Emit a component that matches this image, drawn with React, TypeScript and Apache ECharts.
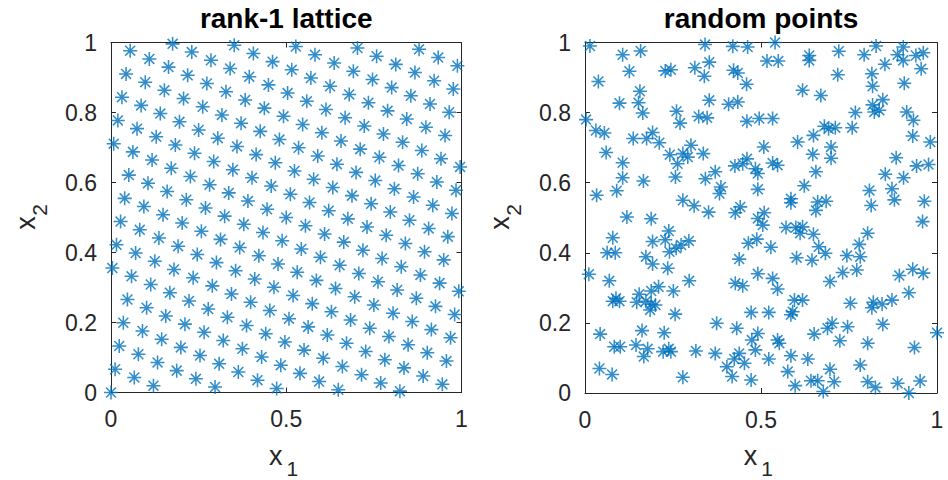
import React, { useEffect, useRef } from "react";
import * as echarts from "echarts";

// rank-1 lattice: N = 256 points, x = i/N, y = latticeY[i]/N
const latticeN = 256;
const latticeY = [
  0, 91, 182, 17, 108, 199, 34, 125, 216, 51, 142, 233, 68, 159, 250, 85,
  176, 11, 102, 193, 28, 119, 210, 45, 136, 227, 62, 153, 244, 79, 170, 5,
  96, 187, 22, 113, 204, 39, 130, 221, 56, 147, 238, 73, 164, 255, 90, 181,
  16, 107, 198, 33, 124, 215, 50, 141, 232, 67, 158, 249, 84, 175, 10, 101,
  192, 27, 118, 209, 44, 135, 226, 61, 152, 243, 78, 169, 4, 95, 186, 21,
  112, 203, 38, 129, 220, 55, 146, 237, 72, 163, 254, 89, 180, 15, 106, 197,
  32, 123, 214, 49, 140, 231, 66, 157, 248, 83, 174, 9, 100, 191, 26, 117,
  208, 43, 134, 225, 60, 151, 242, 77, 168, 3, 94, 185, 20, 111, 202, 37,
  128, 219, 54, 145, 236, 71, 162, 253, 88, 179, 14, 105, 196, 31, 122, 213,
  48, 139, 230, 65, 156, 247, 82, 173, 8, 99, 190, 25, 116, 207, 42, 133,
  224, 59, 150, 241, 76, 167, 2, 93, 184, 19, 110, 201, 36, 127, 218, 53,
  144, 235, 70, 161, 252, 87, 178, 13, 104, 195, 30, 121, 212, 47, 138, 229,
  64, 155, 246, 81, 172, 7, 98, 189, 24, 115, 206, 41, 132, 223, 58, 149,
  240, 75, 166, 1, 92, 183, 18, 109, 200, 35, 126, 217, 52, 143, 234, 69,
  160, 251, 86, 177, 12, 103, 194, 29, 120, 211, 46, 137, 228, 63, 154, 245,
  80, 171, 6, 97, 188, 23, 114, 205, 40, 131, 222, 57, 148, 239, 74, 165,
];

// random points
const randX = [
  0.014, 0.107, 0.158, 0.126, 0.038, 0.228, 0.244, 0.312, 0.156, 0.152, 0.098, 0.164, 0.003, 0.26, 0.27, 0.323,
  0.031, 0.055, 0.137, 0.175, 0.192, 0.211, 0.301, 0.06, 0.241, 0.278, 0.292, 0.263, 0.107, 0.107, 0.166, 0.257,
  0.09, 0.033, 0.278, 0.31, 0.119, 0.188,
  0.341, 0.42, 0.462, 0.54, 0.517, 0.549, 0.637, 0.637, 0.353, 0.339, 0.422, 0.434, 0.459, 0.618, 0.353, 0.408,
  0.434, 0.347, 0.46, 0.495, 0.533, 0.604, 0.649, 0.508, 0.336, 0.647, 0.426, 0.448, 0.46, 0.484, 0.491, 0.533,
  0.547, 0.656, 0.37, 0.342, 0.386, 0.382, 0.491, 0.623, 0.585, 0.585, 0.661, 0.351, 0.427, 0.441, 0.509, 0.656,
  0.721, 0.793, 0.827, 0.904, 0.888, 0.904, 0.94, 0.961, 0.955, 0.852, 0.718, 0.815, 0.817, 0.907, 0.67, 0.846,
  0.817, 0.822, 0.836, 0.768, 0.914, 0.933, 0.68, 0.692, 0.711, 0.759, 0.931, 0.981, 0.699, 0.699, 0.884, 0.942,
  0.976, 0.853, 0.905, 0.808, 0.872, 0.879, 0.813, 0.964, 0.685,
  0.238, 0.079, 0.192, 0.228, 0.24, 0.259, 0.273, 0.295, 0.063, 0.086, 0.173, 0.192, 0.235, 0.011, 0.069, 0.296,
  0.209, 0.188, 0.154, 0.251, 0.088, 0.098, 0.079, 0.147, 0.173, 0.188, 0.185, 0.2, 0.256, 0.043, 0.162, 0.225,
  0.083, 0.1, 0.145, 0.178, 0.167, 0.222, 0.238, 0.244, 0.315, 0.041, 0.077, 0.278,
  0.491, 0.505, 0.571, 0.599, 0.618, 0.611, 0.649, 0.664, 0.464, 0.488, 0.528, 0.438, 0.601, 0.645, 0.491, 0.533,
  0.547, 0.427, 0.448, 0.595, 0.618, 0.59, 0.585, 0.472, 0.522, 0.374, 0.431, 0.491, 0.474, 0.484, 0.547, 0.552,
  0.651, 0.37, 0.438, 0.424, 0.453, 0.403, 0.522, 0.585, 0.633, 0.418, 0.472, 0.576, 0.597, 0.642, 0.661,
  0.959, 0.803, 0.779, 0.683, 0.744, 0.782, 0.732, 0.772, 0.696, 0.893, 0.931, 0.961, 0.92, 0.754, 0.819, 0.815,
  0.844, 0.872, 0.702, 0.689, 0.746, 0.846, 0.724, 0.803, 1.0, 0.936, 0.782, 0.696, 0.708, 0.677, 0.803, 0.825,
  0.888, 0.92, 0.952,
];
const randY = [
  0.99, 0.965, 0.976, 0.918, 0.889, 0.919, 0.922, 0.928, 0.861, 0.828, 0.827, 0.799, 0.78, 0.804, 0.77, 0.789,
  0.749, 0.742, 0.726, 0.726, 0.743, 0.714, 0.707, 0.686, 0.68, 0.683, 0.673, 0.654, 0.657, 0.614, 0.605, 0.616,
  0.577, 0.564, 0.55, 0.534, 0.502, 0.497,
  0.994, 0.989, 0.987, 1.0, 0.947, 0.947, 0.963, 0.949, 0.944, 0.904, 0.921, 0.913, 0.881, 0.864, 0.835, 0.824,
  0.83, 0.785, 0.775, 0.783, 0.783, 0.716, 0.735, 0.702, 0.683, 0.681, 0.648, 0.654, 0.668, 0.64, 0.626, 0.656,
  0.65, 0.631, 0.631, 0.611, 0.588, 0.569, 0.581, 0.591, 0.554, 0.543, 0.545, 0.516, 0.514, 0.531, 0.514, 0.521,
  0.975, 0.965, 0.99, 0.987, 0.965, 0.949, 0.963, 0.971, 0.925, 0.938, 0.908, 0.911, 0.875, 0.884, 0.849, 0.837,
  0.822, 0.802, 0.807, 0.8, 0.802, 0.778, 0.761, 0.754, 0.757, 0.757, 0.733, 0.716, 0.702, 0.67, 0.671, 0.648,
  0.652, 0.624, 0.614, 0.578, 0.583, 0.551, 0.535, 0.547, 0.547,
  0.462, 0.443, 0.432, 0.437, 0.403, 0.413, 0.422, 0.434, 0.4, 0.4, 0.389, 0.368, 0.356, 0.339, 0.32, 0.32,
  0.303, 0.291, 0.282, 0.291, 0.27, 0.262, 0.262, 0.259, 0.262, 0.253, 0.237, 0.251, 0.225, 0.168, 0.178, 0.172,
  0.132, 0.132, 0.137, 0.126, 0.104, 0.118, 0.126, 0.118, 0.12, 0.07, 0.053, 0.045,
  0.498, 0.479, 0.472, 0.472, 0.474, 0.456, 0.453, 0.417, 0.427, 0.439, 0.416, 0.382, 0.386, 0.379, 0.34, 0.327,
  0.297, 0.313, 0.306, 0.265, 0.265, 0.232, 0.223, 0.23, 0.23, 0.199, 0.185, 0.17, 0.151, 0.123, 0.151, 0.142,
  0.168, 0.113, 0.113, 0.097, 0.085, 0.075, 0.097, 0.106, 0.097, 0.047, 0.037, 0.061, 0.021, 0.035, 0.035,
  0.489, 0.456, 0.424, 0.399, 0.392, 0.389, 0.344, 0.351, 0.318, 0.335, 0.353, 0.342, 0.286, 0.256, 0.259, 0.243,
  0.254, 0.265, 0.199, 0.185, 0.189, 0.196, 0.149, 0.142, 0.172, 0.13, 0.08, 0.068, 0.032, 0.004, 0.032, 0.016,
  0.028, 0.0, 0.034,
];

const xTicksInterval = 0.5;
const yTicksInterval = 0.2;
const titles = ["rank-1 lattice", "random points"];

const FONT = '"Liberation Sans", Arial, Helvetica, sans-serif';
const MARK = "#0072BD";
const AXIS = "#262626";
const STAR =
  "path://M0 44.5H100V55.5H0Z M44.5 0H55.5V100H44.5Z M10.7 18.5L18.5 10.7L89.3 81.5L81.5 89.3Z M81.5 10.7L89.3 18.5L18.5 89.3L10.7 81.5Z";

const grids = [
  { left: 111, top: 42.5, width: 350.5, height: 350 },
  { left: 585, top: 42.5, width: 352, height: 350.5 },
];

const fmt = (v: number) => String(parseFloat(v.toFixed(1)));

function makeAxes() {
  const line = { color: AXIS, width: 1 };
  const xAxis: any[] = [];
  const yAxis: any[] = [];
  grids.forEach((_, i) => {
    const common = {
      gridIndex: i,
      type: "value",
      min: 0,
      max: 1,
      splitLine: { show: false },
      axisLine: { show: true, onZero: false, lineStyle: line },
      axisTick: { show: true, inside: true, length: 5, lineStyle: line },
    };
    xAxis.push({
      ...common,
      position: "bottom",
      interval: xTicksInterval,
      axisLabel: { margin: 15, fontSize: 23, color: AXIS, fontFamily: FONT, formatter: fmt },
    });
    xAxis.push({ ...common, position: "top", interval: xTicksInterval, axisLabel: { show: false } });
    yAxis.push({
      ...common,
      position: "left",
      interval: yTicksInterval,
      axisLabel: { margin: 14, fontSize: 23, color: AXIS, fontFamily: FONT, formatter: fmt },
    });
    yAxis.push({ ...common, position: "right", interval: yTicksInterval, axisLabel: { show: false } });
  });
  return { xAxis, yAxis };
}

function txt(text: string, x: number, y: number, size: number, opts: any = {}) {
  return {
    type: "text",
    x,
    y,
    rotation: opts.rotation || 0,
    style: {
      text,
      fontSize: size,
      fontFamily: FONT,
      fontWeight: opts.bold ? "bold" : "normal",
      fill: opts.color || AXIS,
      align: "center",
      verticalAlign: "middle",
      textAlign: "center",
      textVerticalAlign: "middle",
    },
  };
}

export default function App() {
  const ref = useRef<HTMLDivElement>(null);
  useEffect(() => {
    document.body.style.margin = "0";
    if (!ref.current) return;
    const chart = echarts.init(ref.current, undefined, { renderer: "svg" });
    const { xAxis, yAxis } = makeAxes();
    const latticeData = latticeY.map((k, i) => [i / latticeN, k / latticeN]);
    const randData = randX.map((x, i) => [x, randY[i]]);
    const graphics: any[] = [];
    grids.forEach((g, i) => {
      const cx = g.left + g.width / 2;
      graphics.push(txt(titles[i], cx, 18, 28, { bold: true, color: "#000" }));
      graphics.push(txt("x", cx - 10.5, 456, 27));
      graphics.push(txt("1", cx + 6, 468, 21));
      const lx = g.left - 85.5;
      graphics.push(txt("x", lx, 223, 27, { rotation: Math.PI / 2 }));
      graphics.push(txt("2", lx + 14, 210, 21, { rotation: Math.PI / 2 }));
    });
    chart.setOption({
      animation: false,
      backgroundColor: "#fff",
      grid: grids.map((g) => ({ ...g, containLabel: false })),
      xAxis,
      yAxis,
      graphic: graphics,
      series: [
        {
          type: "scatter",
          xAxisIndex: 0,
          yAxisIndex: 0,
          data: latticeData,
          symbol: STAR,
          symbolSize: 14,
          clip: false,
          itemStyle: { color: MARK },
        },
        {
          type: "scatter",
          xAxisIndex: 2,
          yAxisIndex: 2,
          data: randData,
          symbol: STAR,
          symbolSize: 14,
          clip: false,
          itemStyle: { color: MARK },
        },
      ],
    });
    return () => chart.dispose();
  }, []);
  return <div ref={ref} style={{ width: 948, height: 480 }} />;
}
